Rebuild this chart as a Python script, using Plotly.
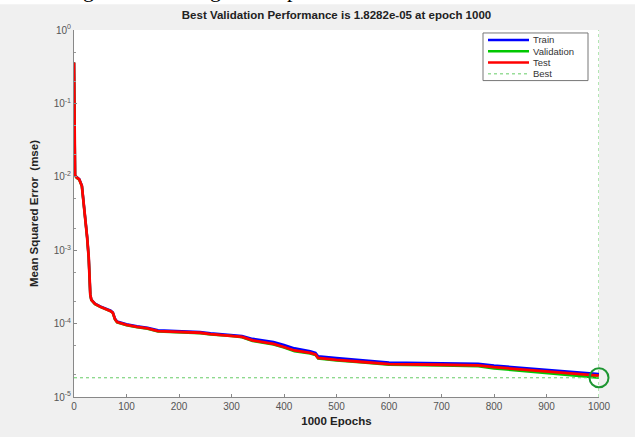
import plotly.graph_objects as go

epochs = [0, 2, 5, 10, 15, 20, 25, 28, 31, 33, 40, 50, 60, 70, 74, 78, 82, 90, 100, 120, 140,
          160, 200, 240, 260, 300, 320, 340, 360, 380, 400, 420, 450, 460, 465, 480, 500, 550,
          600, 700, 770, 800, 900, 1000]
test_mse = [0.36, 0.0105, 0.0098, 0.0092, 0.0075, 0.0035, 0.0015, 0.0008, 0.00025, 0.00021,
            0.000185, 0.000170, 0.000160, 0.000148, 0.000140, 0.000115, 0.000105, 0.000100,
            0.000096, 0.000090, 0.000086, 0.000079, 0.000077, 0.000075, 0.000072, 0.000069,
            0.000066, 0.000059, 0.000056, 0.000053, 0.000048, 0.000043, 0.000040, 0.000038,
            0.000034, 0.000033, 0.000032, 0.000030, 0.000028, 0.0000275, 0.000027, 0.0000255,
            0.0000225, 0.0000195]
train_mse = [0.36, 0.0106, 0.0099, 0.0093, 0.0076, 0.0036, 0.00152, 0.00081, 0.000252, 0.000212,
             0.000187, 0.000172, 0.000162, 0.000150, 0.000142, 0.000117, 0.000107, 0.000102,
             0.000098, 0.000092, 0.000088, 0.000081, 0.000079, 0.000077, 0.000074, 0.000071,
             0.000068, 0.000062, 0.000059, 0.000056, 0.000051, 0.000046, 0.000042, 0.000040,
             0.000036, 0.0000350, 0.0000340, 0.0000317, 0.0000296, 0.0000289, 0.0000284,
             0.0000268, 0.0000237, 0.0000205]
valid_mse = [0.36, 0.0104, 0.0097, 0.0091, 0.0074, 0.0035, 0.00149, 0.00079, 0.000248, 0.000209,
             0.000184, 0.000169, 0.000159, 0.000147, 0.000139, 0.000114, 0.000104, 0.000099,
             0.000095, 0.000089, 0.000085, 0.000078, 0.000076, 0.000074, 0.000071, 0.000068,
             0.000065, 0.000058, 0.000055, 0.000052, 0.000047, 0.000042, 0.0000392, 0.0000372,
             0.0000333, 0.0000323, 0.0000313, 0.0000294, 0.0000274, 0.0000268, 0.0000262,
             0.0000245, 0.0000214, 0.000018282]
best_epoch = 1000
best_perf = 1.8282e-05

x_ticks = [0, 100, 200, 300, 400, 500, 600, 700, 800, 900, 1000]
y_ticks = [1e0, 1e-1, 1e-2, 1e-3, 1e-4, 1e-5]
y_ticktext = ["10<sup>0</sup>", "10<sup>-1</sup>", "10<sup>-2</sup>", "10<sup>-3</sup>",
              "10<sup>-4</sup>", "10<sup>-5</sup>"]
legend_names = ["Train", "Validation", "Test", "Best"]
legend_colors = ["#0000ff", "#00c800", "#ff0000", "#66cc66"]

fig = go.Figure()
fig.add_trace(go.Scatter(x=epochs, y=train_mse, mode="lines", name="Train", showlegend=False,
                         line=dict(color="#0000ff", width=2.5)))
fig.add_trace(go.Scatter(x=epochs, y=valid_mse, mode="lines", name="Validation", showlegend=False,
                         line=dict(color="#00c800", width=2.5)))
fig.add_trace(go.Scatter(x=epochs, y=test_mse, mode="lines", name="Test", showlegend=False,
                         line=dict(color="#ff0000", width=2.8)))
fig.add_trace(go.Scatter(x=[0, 1000], y=[best_perf, best_perf], mode="lines", name="Best",
                         showlegend=False, line=dict(color="#66cc66", width=1, dash="dot")))
fig.add_trace(go.Scatter(x=[best_epoch, best_epoch], y=[1e-5, 1e0], mode="lines",
                         showlegend=False, line=dict(color="#66cc66", width=1, dash="dot")))
fig.add_trace(go.Scatter(x=[best_epoch], y=[best_perf], mode="markers", showlegend=False,
                         cliponaxis=False,
                         marker=dict(symbol="circle-open", size=19, color="#1e9632",
                                     line=dict(width=2, color="#1e9632"))))

# plot area in pixels: x 74..599, y 30..400
L, R, T, B = 74, 599, 30, 400
def px(xp):
    return (xp - L) / (R - L)
def py(yp):
    return (B - yp) / (B - T)

# manual compact legend (MATLAB style)
fig.add_shape(type="rect", xref="paper", yref="paper", x0=px(483), x1=px(588),
              y0=py(81), y1=py(33), fillcolor="#ffffff", line=dict(color="#777777", width=1))
for i, (name, col) in enumerate(zip(legend_names, legend_colors)):
    yy = 40 + i * 11.4
    dash = "dot" if name == "Best" else "solid"
    w = 1 if name == "Best" else 2.5
    fig.add_shape(type="line", xref="paper", yref="paper", x0=px(488), x1=px(529),
                  y0=py(yy), y1=py(yy), line=dict(color=col, width=w, dash=dash))
    fig.add_annotation(x=px(531), y=py(yy), xref="paper", yref="paper", text=name,
                       showarrow=False, xanchor="left", yanchor="middle",
                       font=dict(family="Liberation Sans, Arial", size=9.5, color="#333333"))

# white strip with cut-off document text at the very top
fig.add_shape(type="rect", xref="paper", yref="paper", x0=px(-5), x1=px(640),
              y0=py(4), y1=py(-30), fillcolor="#ffffff", line=dict(width=0))
for ch, xx in [("g", 88), ("g", 215), ("p", 292)]:
    fig.add_annotation(x=px(xx), y=py(-10.5), xref="paper", yref="paper", text=ch,
                       showarrow=False, xanchor="center", yanchor="middle",
                       font=dict(family="Liberation Serif", size=22, color="#000000"))

axis_font = dict(family="Liberation Sans, Arial", size=10, color="#555555")
fig.update_layout(
    width=635, height=437,
    margin=dict(l=L, r=635 - R, t=T, b=437 - B),
    paper_bgcolor="#f0f0f0", plot_bgcolor="#ffffff",
    title=dict(text="<b>Best Validation Performance is 1.8282e-05 at epoch 1000</b>",
               x=0.5, xref="paper", y=1 - 15 / 437, yref="container", xanchor="center",
               yanchor="middle",
               font=dict(family="Liberation Sans, Arial", size=11.5, color="#222222")),
    showlegend=False,
    xaxis=dict(range=[0, 1000], tickvals=x_ticks, ticks="inside", ticklen=3,
               tickcolor="#888888", showline=True, linecolor="#888888", linewidth=1,
               showgrid=False, zeroline=False, tickfont=axis_font,
               title=dict(text="<b>1000 Epochs</b>", standoff=5,
                          font=dict(family="Liberation Sans, Arial", size=11.5, color="#222222"))),
    yaxis=dict(type="log", range=[-5, 0], tickvals=y_ticks, ticktext=y_ticktext,
               ticks="inside", ticklen=3, tickcolor="#888888", showline=True,
               linecolor="#888888", linewidth=1, showgrid=False, zeroline=False,
               tickfont=axis_font,
               minor=dict(ticks="inside", ticklen=2, tickcolor="#999999", showgrid=False),
               title=dict(text="<b>Mean Squared Error  (mse)</b>", standoff=12,
                          font=dict(family="Liberation Sans, Arial", size=11.5, color="#222222"))),
)

fig.write_html("out.html")
